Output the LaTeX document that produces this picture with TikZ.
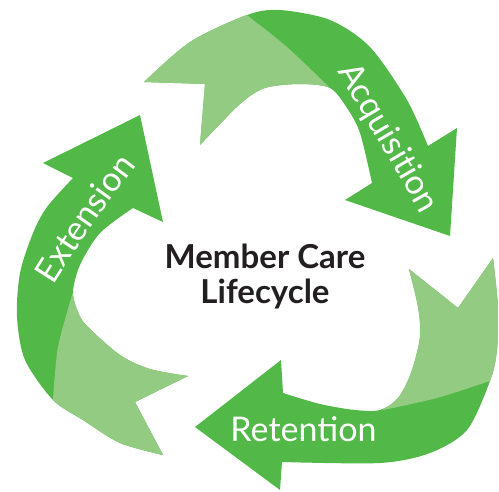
\documentclass[tikz,border=0pt]{standalone}
\usepackage{fontspec}
\setmainfont{Lato}
\usetikzlibrary{decorations.text}
\definecolor{dkgreen}{RGB}{82,184,72}
\definecolor{ltgreen}{RGB}{147,203,131}
\definecolor{titletxt}{RGB}{35,31,32}
\newcommand\lblfont{\fontsize{34}{38}\selectfont}
\newcommand\ttlfont{\bfseries\fontsize{33}{37}\selectfont}
\tikzset{
  curvedlabel/.style={decorate, decoration={text along path, text={|\lblfont|#1}, text color=white, text align=left, raise=-10pt}},
}
\begin{document}
\begin{tikzpicture}[x=1pt,y=-1pt]
\useasboundingbox (0,0) rectangle (499,491);
% Acquisition arrow
\begin{scope}
\clip (200,145) -- (205,84) -- (144,82) -- plot[smooth] coordinates {(144,82) (190,42) (247,15) (280,10) (330,20) (370,47) (407,100) (428,146)} -- (457,128) -- (450,236) -- (345,200) -- (372,183) -- plot[smooth] coordinates {(372,183) (360,133) (347,108) (330,88) (300,84) (265,88) (240,104) (200,145)} -- cycle;
\fill[dkgreen] (0,0) rectangle (499,491);
\fill[ltgreen] plot[smooth] coordinates {(238,6) (247,15) (287,47) (330,88)} -- (325,200) -- (100,200) -- (100,-10) -- cycle;
\end{scope}
% Retention arrow
\begin{scope}
\clip (409,269) -- (458,308) -- (493,258) -- plot[smooth] coordinates {(493,258) (498,307) (497,350) (490,381) (467,430) (430,453) (380,463) (282,462)} -- (280,490) -- (195,427) -- (281,360) -- (283,393) -- plot[smooth] coordinates {(283,393) (320,404) (355,410) (380,410) (398,398) (411,373) (420,337) (418,307) (409,269)} -- cycle;
\fill[dkgreen] (0,0) rectangle (499,491);
\fill[ltgreen] plot[smooth] coordinates {(505,376) (490,381) (437,398) (383,410)} -- (383,250) -- (505,240) -- cycle;
\end{scope}
% Extension arrow
\begin{scope}
\clip (188,376) -- (135,402) -- (163,455) -- plot[smooth] coordinates {(163,455) (120,443) (83,420) (53,400) (25,360) (17,317) (20,273) (33,233) (47,207) (73,178)} -- (43,163) -- (140,115) -- (163,222) -- (133,208) -- plot[smooth] coordinates {(133,208) (100,233) (80,265) (73,292) (78,312) (87,326) (120,355) (150,369) (188,376)} -- cycle;
\fill[dkgreen] (0,0) rectangle (499,491);
\fill[ltgreen] plot[smooth] coordinates {(73,292) (58,347) (53,400)} -- (53,480) -- (260,480) -- (260,292) -- cycle;
\end{scope}
% labels
\coordinate (acqA) at (346,66);
\coordinate (acqB) at (465,275);
\coordinate (extA) at (45,280);
\coordinate (extB) at (160,120);
\path[curvedlabel=Acquisition] (acqA) .. controls (380,125) and (415,180) .. (acqB);
\path[curvedlabel=Extension] (extA) .. controls (70,240) and (110,180) .. (extB);
\node[font=\lblfont, text=white, anchor=base, inner sep=0] (ret) at (303.5,441) {Retention};
\node[font=\ttlfont, text=titletxt, anchor=base, inner sep=0] (t1) at (265,268) {Member Care};
\node[font=\ttlfont, text=titletxt, anchor=base, inner sep=0] (t2) at (265,303) {Lifecycle};
\end{tikzpicture}
\end{document}
